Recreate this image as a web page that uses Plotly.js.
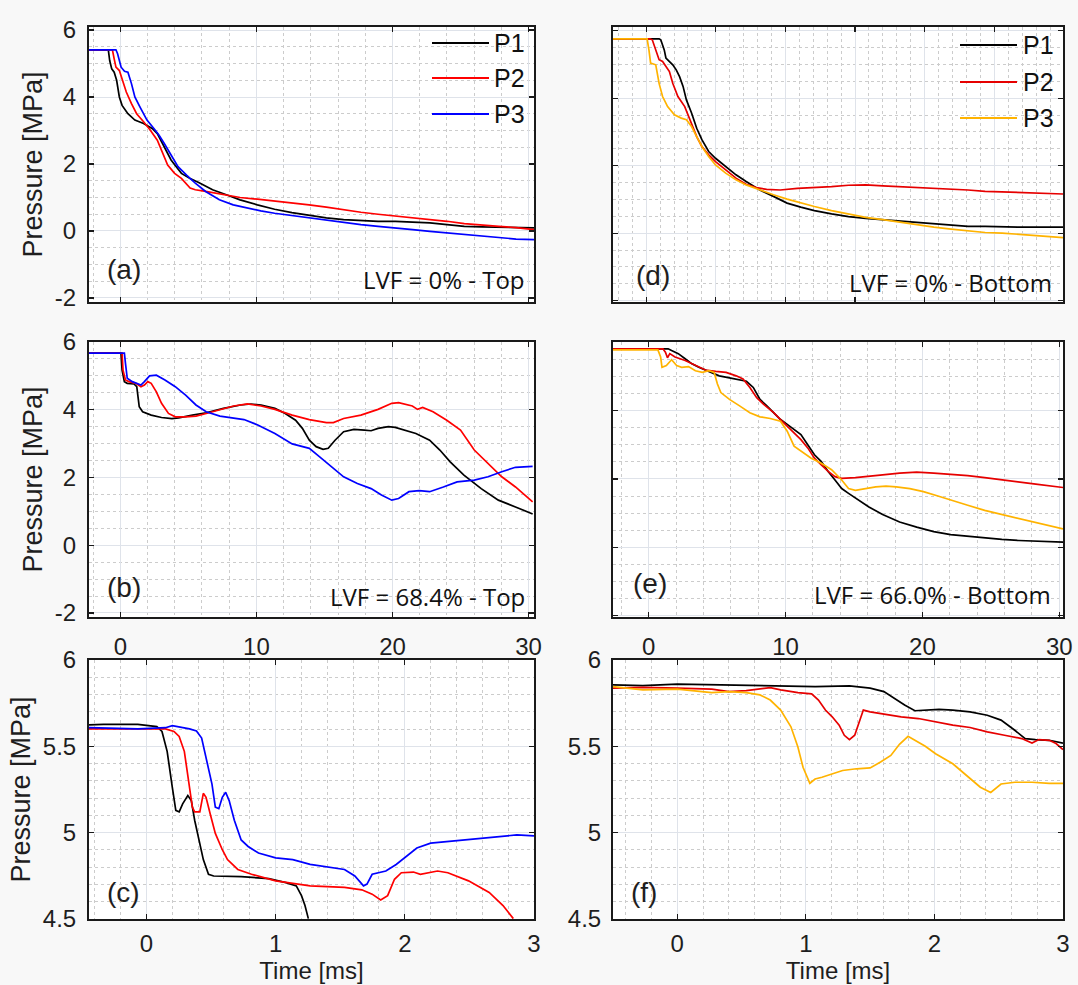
<!DOCTYPE html>
<html>
<head>
<meta charset="utf-8">
<script src="https://cdn.plot.ly/plotly-3.0.1.min.js"></script>
<style>
html,body{margin:0;padding:0;background:#f8f8f8;}
#chart{width:1078px;height:985px;}
</style>
</head>
<body>
<div id="chart"></div>
<script>
// ---------- DATA (time in ms, pressure in MPa) ----------
var seriesNames = ['P1', 'P2', 'P3'];
var panelLabels = ['(a)', '(b)', '(c)', '(d)', '(e)', '(f)'];
var caseLabels = ['LVF = 0% - Top', 'LVF = 68.4% - Top', 'LVF = 0% - Bottom', 'LVF = 66.0% - Bottom'];
var longTickVals = [0, 10, 20, 30];
var longTickText = ['0', '10', '20', '30'];
var shortTickVals = [0, 1, 2, 3];
var shortTickText = ['0', '1', '2', '3'];
var wideYVals = [-2, 0, 2, 4, 6];
var wideYText = ['-2', '0', '2', '4', '6'];
var zoomYVals = [4.5, 5, 5.5, 6];
var zoomYText = ['4.5', '5', '5.5', '6'];

// (a) LVF 0% Top
var aT1 = [-2.3,-0.88,-0.78,-0.63,-0.45,-0.27,-0.07,0.13,0.56,1.07,1.71,2.34,2.72,3.23,3.73,4.49,5.13,5.76,6.78,7.79,8.80,10.07,11.34,12.61,13.87,15.14,16.41,17.68,18.94,20.21,21.48,22.75,24.01,25.28,26.55,27.82,29.08,30.40];
var aP1 = [5.41,5.41,5.09,4.84,4.74,4.50,4.00,3.75,3.50,3.31,3.21,3.06,2.91,2.51,2.12,1.72,1.57,1.45,1.23,1.08,0.93,0.78,0.65,0.55,0.46,0.39,0.34,0.31,0.29,0.29,0.27,0.24,0.19,0.14,0.12,0.11,0.09,0.09];
var aT2 = [-2.3,-0.58,-0.45,-0.32,-0.07,0.18,0.44,0.82,1.20,1.71,2.21,2.72,3.10,3.48,3.99,4.49,5.13,5.51,6.27,7.54,8.80,10.07,11.34,12.61,13.87,15.14,16.41,17.68,18.94,20.21,21.48,22.75,24.01,25.28,26.55,27.82,29.08,30.40];
var aP2 = [5.41,5.41,5.14,4.89,4.79,4.50,4.15,3.80,3.50,3.26,3.01,2.71,2.32,1.97,1.72,1.57,1.28,1.23,1.18,1.08,1.00,0.95,0.90,0.85,0.78,0.71,0.63,0.56,0.50,0.45,0.39,0.34,0.29,0.22,0.19,0.14,0.10,0.04];
var aT3 = [-2.3,-0.32,-0.20,0.06,0.31,0.56,0.82,1.07,1.45,1.96,2.47,2.85,3.23,3.73,4.24,4.87,5.51,6.27,7.28,8.30,9.31,10.32,11.34,12.61,13.87,15.14,16.41,17.68,18.94,20.21,21.48,22.75,24.01,25.28,26.55,27.82,29.08,30.40];
var aP3 = [5.41,5.41,5.29,4.89,4.77,4.74,4.40,4.00,3.70,3.31,3.06,2.86,2.61,2.27,1.92,1.67,1.43,1.18,0.93,0.78,0.68,0.60,0.53,0.46,0.40,0.34,0.26,0.19,0.14,0.08,0.04,-0.01,-0.06,-0.11,-0.16,-0.19,-0.24,-0.26];

// (b) LVF 68.4% Top
var bT1 = [-2.32,0.05,0.13,0.30,0.51,1.01,1.21,1.39,1.64,2.27,3.03,3.79,4.29,4.80,5.30,6.31,7.58,8.84,9.60,10.35,11.36,12.12,12.88,13.38,13.89,14.39,14.90,15.28,15.78,16.41,17.17,17.93,18.43,18.94,19.70,20.20,20.96,21.72,22.73,23.48,24.24,25.25,26.52,27.78,29.04,30.30];
var bP1 = [5.67,5.67,5.17,4.83,4.78,4.76,4.68,4.09,3.94,3.84,3.77,3.74,3.76,3.79,3.84,3.91,4.04,4.14,4.17,4.14,4.04,3.89,3.69,3.45,3.10,2.91,2.83,2.86,3.10,3.35,3.42,3.40,3.38,3.45,3.50,3.48,3.40,3.30,3.10,2.81,2.46,2.07,1.67,1.33,1.13,0.92];
var bT2 = [-2.32,0.13,0.20,0.38,0.63,1.14,1.52,1.77,2.02,2.27,2.65,3.03,3.54,4.04,4.80,5.56,6.31,7.32,8.33,9.34,10.35,11.36,12.63,13.89,15.15,15.66,16.41,17.68,18.94,19.95,20.45,21.46,21.84,22.22,22.98,23.99,25.00,26.01,27.02,28.03,29.04,30.30];
var bP2 = [5.67,5.67,5.17,4.88,4.83,4.78,4.68,4.73,4.83,4.78,4.53,4.19,3.89,3.79,3.79,3.81,3.89,3.99,4.11,4.17,4.11,4.01,3.84,3.71,3.62,3.62,3.74,3.84,4.01,4.19,4.21,4.11,4.01,4.07,3.94,3.69,3.40,2.81,2.41,2.02,1.72,1.28];
var bT3 = [-2.32,0.30,0.38,0.51,0.88,1.52,1.77,2.15,2.65,3.28,4.04,4.80,5.56,6.31,7.32,8.33,9.09,10.10,11.36,12.63,13.89,14.65,15.40,16.41,17.42,18.43,19.19,19.95,20.45,21.21,21.97,22.73,23.74,24.75,26.01,27.02,28.03,29.04,30.30];
var bP3 = [5.67,5.67,5.37,4.93,4.83,4.73,4.83,5.00,5.02,4.88,4.68,4.43,4.14,3.94,3.81,3.76,3.71,3.55,3.30,2.99,2.86,2.61,2.36,2.02,1.82,1.67,1.48,1.33,1.38,1.58,1.61,1.58,1.72,1.87,1.92,2.02,2.17,2.30,2.33];

// (c) LVF 68.4% Top, first 3 ms
var cT1 = [-0.445,-0.333,-0.067,0.08,0.12,0.16,0.20,0.227,0.253,0.28,0.32,0.347,0.373,0.40,0.44,0.48,0.52,0.733,0.947,1.08,1.16,1.20,1.227,1.253];
var cP1 = [5.624,5.627,5.627,5.614,5.586,5.471,5.262,5.129,5.120,5.167,5.215,5.186,5.072,4.977,4.844,4.759,4.749,4.745,4.734,4.711,4.692,4.635,4.578,4.502];
var cT2 = [-0.445,0.147,0.213,0.253,0.293,0.328,0.355,0.373,0.413,0.44,0.461,0.493,0.533,0.587,0.627,0.707,0.813,1.0,1.267,1.533,1.667,1.747,1.813,1.867,1.92,1.973,2.067,2.12,2.253,2.333,2.493,2.653,2.76,2.84];
var cP2 = [5.601,5.601,5.586,5.557,5.471,5.300,5.148,5.120,5.120,5.228,5.205,5.110,4.996,4.901,4.844,4.787,4.759,4.721,4.692,4.683,4.669,4.644,4.610,4.635,4.730,4.768,4.772,4.759,4.778,4.768,4.721,4.654,4.578,4.502];
var cT3 = [-0.445,-0.067,0.147,0.2,0.333,0.387,0.427,0.467,0.507,0.533,0.56,0.587,0.613,0.64,0.68,0.733,0.787,0.867,1.0,1.133,1.267,1.533,1.613,1.68,1.707,1.747,1.853,1.933,2.013,2.093,2.2,2.333,2.6,2.867,3.0];
var cP3 = [5.608,5.601,5.608,5.620,5.601,5.589,5.548,5.414,5.281,5.148,5.139,5.205,5.234,5.186,5.072,4.958,4.920,4.882,4.854,4.844,4.816,4.787,4.749,4.692,4.702,4.759,4.778,4.816,4.863,4.911,4.939,4.949,4.968,4.987,4.981];

// (d) LVF 0% Bottom
var dT1 = [-2.38,0.93,1.05,1.30,1.42,1.67,1.91,2.16,2.40,2.65,2.89,3.26,3.63,4.00,4.49,4.98,5.71,6.45,7.18,8.16,9.14,10.12,11.10,12.08,13.31,14.53,15.76,16.99,18.21,19.44,20.66,21.89,23.11,24.34,26.79,29.93];
var dP1 = [5.76,5.76,5.73,5.43,5.19,5.09,4.99,4.84,4.64,4.35,3.95,3.56,3.11,2.77,2.42,2.22,1.98,1.73,1.53,1.28,1.09,0.89,0.77,0.67,0.57,0.49,0.44,0.40,0.35,0.32,0.28,0.23,0.20,0.20,0.18,0.18];
var dT2 = [-2.38,0.27,0.44,0.69,0.93,1.18,1.42,1.67,1.91,2.28,2.77,3.26,3.63,4.00,4.49,4.98,5.71,6.45,7.18,7.92,8.65,9.63,10.86,12.08,13.31,14.53,15.76,16.99,18.21,19.44,20.66,21.89,23.11,24.34,25.56,26.79,28.01,29.93];
var dP2 = [5.76,5.76,5.73,5.43,5.14,5.09,4.94,4.79,4.44,4.05,3.75,3.26,2.86,2.57,2.32,2.12,1.88,1.63,1.45,1.35,1.30,1.28,1.33,1.35,1.38,1.42,1.43,1.40,1.38,1.35,1.33,1.30,1.28,1.24,1.22,1.20,1.19,1.16];
var dT3 = [-2.38,0.07,0.20,0.32,0.69,0.93,1.18,1.54,2.03,2.52,2.89,3.26,3.63,4.00,4.49,4.98,5.71,6.45,7.18,8.16,9.14,10.12,11.10,12.08,13.31,14.53,15.76,16.99,18.21,19.44,20.66,21.89,23.11,24.34,25.56,26.79,28.01,29.93];
var dP3 = [5.76,5.76,5.43,5.04,4.99,4.44,4.05,3.75,3.51,3.41,3.36,3.16,2.86,2.57,2.27,2.02,1.78,1.58,1.43,1.28,1.14,1.01,0.89,0.79,0.67,0.57,0.47,0.40,0.32,0.25,0.18,0.12,0.07,0.02,0.00,-0.03,-0.07,-0.13];

// (e) LVF 66.0% Bottom
var eT1 = [-2.61,1.42,1.67,2.16,2.66,3.16,3.66,4.40,5.15,5.90,6.64,7.14,7.64,8.13,8.63,9.13,9.63,10.12,10.62,11.12,11.62,12.11,12.61,13.11,13.61,14.10,14.60,15.35,16.09,17.09,18.33,19.58,20.82,22.06,23.31,24.55,25.80,27.04,28.28,30.27];
var eP1 = [5.81,5.81,5.76,5.67,5.52,5.37,5.27,5.15,5.02,4.96,4.90,4.86,4.68,4.33,4.14,3.94,3.74,3.60,3.45,3.30,3.00,2.71,2.51,2.22,1.97,1.72,1.58,1.38,1.18,0.96,0.74,0.59,0.46,0.37,0.32,0.27,0.23,0.20,0.18,0.15];
var eT2 = [-2.61,1.04,1.22,1.37,1.54,1.92,2.66,3.41,4.15,4.90,5.65,6.39,6.89,7.39,7.89,8.38,9.13,9.63,10.12,10.62,11.12,11.62,12.11,12.61,13.11,13.61,14.10,15.10,16.09,17.09,18.33,19.58,20.82,22.06,23.31,24.55,25.80,27.04,28.28,30.27];
var eP2 = [5.81,5.81,5.71,5.55,5.67,5.57,5.47,5.32,5.19,5.15,5.12,5.02,4.93,4.68,4.38,4.19,3.94,3.74,3.55,3.35,3.15,2.91,2.61,2.41,2.22,2.07,2.02,2.04,2.07,2.12,2.17,2.20,2.17,2.14,2.10,2.04,1.97,1.92,1.85,1.75];
var eT3 = [-2.61,0.67,0.87,0.97,1.29,1.67,2.04,2.41,2.91,3.41,3.91,4.40,4.78,5.02,5.27,5.90,6.64,7.39,8.13,8.88,9.63,10.12,10.62,11.12,11.87,12.61,13.36,14.10,14.60,15.10,15.85,16.59,17.34,18.08,19.08,20.07,21.07,22.06,23.31,24.55,25.80,27.04,28.28,30.27];
var eP3 = [5.78,5.78,5.57,5.27,5.32,5.49,5.32,5.27,5.29,5.17,5.12,5.17,5.12,4.78,4.53,4.33,4.14,3.94,3.82,3.77,3.69,3.40,2.96,2.81,2.61,2.46,2.27,1.97,1.72,1.67,1.72,1.77,1.79,1.77,1.72,1.63,1.51,1.38,1.23,1.08,0.96,0.84,0.72,0.54];

// (f) LVF 66.0% Bottom, first 3 ms
var fT1 = [-0.50,-0.268,0,0.268,0.536,0.804,1.072,1.339,1.500,1.607,1.688,1.768,1.848,1.929,2.036,2.143,2.277,2.411,2.518,2.625,2.706,2.786,2.893,3.0];
var fP1 = [5.856,5.852,5.860,5.856,5.852,5.850,5.846,5.850,5.837,5.817,5.778,5.739,5.706,5.710,5.714,5.710,5.700,5.680,5.652,5.593,5.545,5.539,5.535,5.519];
var fT2 = [-0.50,-0.268,0,0.268,0.402,0.536,0.723,0.804,0.938,1.045,1.098,1.152,1.205,1.259,1.299,1.339,1.380,1.420,1.447,1.500,1.607,1.741,1.875,2.009,2.143,2.277,2.411,2.545,2.679,2.759,2.813,2.893,2.946,3.0];
var fP2 = [5.837,5.841,5.837,5.831,5.817,5.823,5.840,5.827,5.811,5.804,5.768,5.710,5.671,5.623,5.564,5.539,5.564,5.652,5.710,5.700,5.687,5.671,5.661,5.642,5.623,5.609,5.584,5.564,5.545,5.519,5.539,5.535,5.516,5.481];
var fT3 = [-0.50,-0.268,0,0.134,0.268,0.402,0.536,0.643,0.723,0.804,0.884,0.938,0.978,1.031,1.072,1.125,1.205,1.286,1.393,1.500,1.581,1.661,1.728,1.795,1.848,1.929,2.009,2.143,2.250,2.357,2.438,2.518,2.625,2.759,2.893,3.0];
var fP3 = [5.846,5.827,5.831,5.823,5.811,5.817,5.811,5.798,5.768,5.710,5.613,5.496,5.379,5.286,5.311,5.321,5.340,5.360,5.370,5.375,5.409,5.447,5.512,5.558,5.535,5.500,5.457,5.399,5.331,5.263,5.233,5.282,5.292,5.292,5.286,5.286];

// ---------- STYLE ----------
var leftColors = ['#000000', '#ff0000', '#0000ff'];
var rightColors = ['#000000', '#e60000', '#ffb300'];
var FONT = 'Liberation Sans, Arial, sans-serif';
var W = 1078, H = 985;
function px(x) { return x / W; }
function py(y) { return 1 - y / H; }

var panels = [
  {ax: '',  T: [aT1, aT2, aT3], P: [aP1, aP2, aP3], colors: leftColors},
  {ax: '2', T: [bT1, bT2, bT3], P: [bP1, bP2, bP3], colors: leftColors},
  {ax: '3', T: [cT1, cT2, cT3], P: [cP1, cP2, cP3], colors: leftColors},
  {ax: '4', T: [dT1, dT2, dT3], P: [dP1, dP2, dP3], colors: rightColors},
  {ax: '5', T: [eT1, eT2, eT3], P: [eP1, eP2, eP3], colors: rightColors},
  {ax: '6', T: [fT1, fT2, fT3], P: [fP1, fP2, fP3], colors: rightColors}
];

var traces = [];
panels.forEach(function (p) {
  for (var i = 0; i < 3; i++) {
    traces.push({
      type: 'scatter', mode: 'lines',
      x: p.T[i], y: p.P[i], name: seriesNames[i],
      xaxis: 'x' + p.ax, yaxis: 'y' + p.ax,
      line: {color: p.colors[i], width: 1.7},
      showlegend: false, hoverinfo: 'skip'
    });
  }
});

function axis(opts) {
  var a = {
    domain: opts.domain, range: opts.range,
    showline: true, mirror: 'ticks', linecolor: '#1a1a1a', linewidth: 2,
    ticks: 'inside', ticklen: 5, tickwidth: 1.2, tickcolor: '#1a1a1a',
    showgrid: true, gridcolor: '#dfe3ea', gridwidth: 1,
    zeroline: false,
    tickmode: 'array', tickvals: opts.vals, ticktext: opts.text,
    showticklabels: !!opts.labels,
    tickfont: {family: FONT, size: 24, color: '#1e1e1e'},
    ticklabelstandoff: (opts.standoff !== undefined) ? opts.standoff : 6,
    minor: {dtick: opts.minor, tick0: 0, showgrid: true, gridcolor: '#cccccc', griddash: 'dot', gridwidth: 1, ticks: ''},
    fixedrange: true
  };
  if (opts.anchor) a.anchor = opts.anchor;
  if (opts.title) a.title = {text: opts.title, font: {family: FONT, size: opts.tsize || 27, color: '#1e1e1e'}, standoff: opts.tstand};
  return a;
}

var colL = [px(89), px(534)], colR = [px(613), px(1063)];
var row1 = [py(302), py(27)], row2 = [py(617), py(342)], row3 = [py(919), py(660)];
var rightTickVals5 = [0, 5, 10, 15, 20, 25, 30];

var layout = {
  width: W, height: H,
  margin: {l: 0, r: 0, t: 0, b: 0},
  paper_bgcolor: '#f8f8f8', plot_bgcolor: '#ffffff',
  showlegend: false,
  xaxis:  axis({domain: colL, range: [-2.3, 30.4], vals: longTickVals, text: longTickText, minor: 2, anchor: 'y'}),
  yaxis:  axis({domain: row1, range: [-2.12, 6.09], vals: wideYVals, text: wideYText, minor: 0.5, labels: true, anchor: 'x', title: 'Pressure [MPa]', tstand: 4}),
  xaxis2: axis({domain: colL, range: [-2.3, 30.4], vals: longTickVals, text: longTickText, minor: 2, labels: true, anchor: 'y2', standoff: 7}),
  yaxis2: axis({domain: row2, range: [-2.12, 6.0], vals: wideYVals, text: wideYText, minor: 0.5, labels: true, anchor: 'x2', title: 'Pressure [MPa]', tstand: 4}),
  xaxis3: axis({domain: colL, range: [-0.445, 3.0], vals: shortTickVals, text: shortTickText, minor: 0.2, labels: true, anchor: 'y3', standoff: 2, title: 'Time [ms]', tstand: 3, tsize: 24}),
  yaxis3: axis({domain: row3, range: [4.5, 6.0], vals: zoomYVals, text: zoomYText, minor: 0.1, labels: true, anchor: 'x3', title: 'Pressure [MPa]', tstand: 4}),
  xaxis4: axis({domain: colR, range: [-2.38, 29.93], vals: rightTickVals5, minor: 1, anchor: 'y4'}),
  yaxis4: axis({domain: row1, range: [-2.04, 6.11], vals: wideYVals, text: wideYText, minor: 0.5, anchor: 'x4'}),
  xaxis5: axis({domain: colR, range: [-2.61, 30.27], vals: longTickVals, text: longTickText, minor: 2, labels: true, anchor: 'y5', standoff: 7}),
  yaxis5: axis({domain: row2, range: [-2.04, 6.01], vals: wideYVals, text: wideYText, minor: 0.5, anchor: 'x5'}),
  xaxis6: axis({domain: colR, range: [-0.5, 3.0], vals: shortTickVals, text: shortTickText, minor: 0.2, labels: true, anchor: 'y6', standoff: 2, title: 'Time [ms]', tstand: 3, tsize: 24}),
  yaxis6: axis({domain: row3, range: [4.5, 6.0], vals: zoomYVals, text: zoomYText, minor: 0.1, labels: true, anchor: 'x6', standoff: 5}),
  annotations: [],
  shapes: []
};

// panel letters
var letterPos = [[124, 270], [124, 587], [123, 892], [653, 275], [650, 583], [644, 892]];
panelLabels.forEach(function (t, i) {
  layout.annotations.push({text: t, x: px(letterPos[i][0]), y: py(letterPos[i][1]), xref: 'paper', yref: 'paper',
    showarrow: false, xanchor: 'center', yanchor: 'middle', font: {family: FONT, size: 28, color: '#1e1e1e'}});
});
// case labels
var casePos = [[527, 280], [527, 596], [1054, 282], [1053, 594]];
caseLabels.forEach(function (t, i) {
  layout.annotations.push({text: t, x: px(casePos[i][0]), y: py(casePos[i][1]), xref: 'paper', yref: 'paper',
    showarrow: false, xanchor: 'right', yanchor: 'middle', font: {family: 'Open Sans, Noto Sans, sans-serif', size: 24, color: '#111'}});
});
// legends (drawn manually, MATLAB style long line samples)
var legendBoxes = [
  {x0: 432, x1: 489, tx: 492, ys: [43, 78, 114], colors: leftColors},
  {x0: 960, x1: 1017, tx: 1021, ys: [45, 82, 118], colors: rightColors}
];
legendBoxes.forEach(function (lg) {
  for (var i = 0; i < 3; i++) {
    layout.shapes.push({type: 'line', xref: 'paper', yref: 'paper', x0: px(lg.x0), x1: px(lg.x1), y0: py(lg.ys[i]), y1: py(lg.ys[i]),
      line: {color: lg.colors[i], width: 2}});
    layout.annotations.push({text: seriesNames[i], x: px(lg.tx), y: py(lg.ys[i]), xref: 'paper', yref: 'paper',
      showarrow: false, xanchor: 'left', yanchor: 'middle', font: {family: FONT, size: 25, color: '#111'}});
  }
});

Plotly.newPlot('chart', traces, layout, {staticPlot: true, displayModeBar: false});
</script>
</body>
</html>
